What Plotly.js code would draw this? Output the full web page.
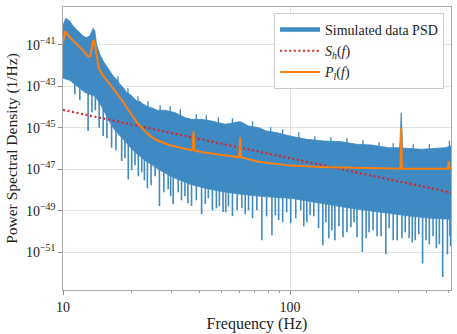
<!DOCTYPE html>
<html>
<head>
<meta charset="utf-8">
<script src="https://cdn.plot.ly/plotly-3.0.1.min.js"></script>
<style>html,body{margin:0;padding:0;background:#fff;}#chart{width:457px;height:334px;}</style>
</head>
<body>
<div id="chart"></div>
<script>
// ---- Simulated data PSD: upper envelope (Hz, 1/Hz) ----
var psdTopFreq = [10.0, 10.28, 10.71, 11.07, 11.46, 11.86, 12.26, 12.69, 13.13, 13.58, 13.81, 14.05, 14.53, 15.03, 15.56, 16.09, 16.64, 17.23, 17.82, 18.43, 19.08, 19.73, 20.40, 21.12, 21.84, 22.59, 23.39, 24.19, 25.02, 25.91, 28.10, 31.11, 34.45, 36.84, 40.79, 45.17, 51.79, 60.32, 65.66, 72.71, 78.87, 87.33, 100.0, 118.6, 140.5, 166.4, 197.3, 229.2, 271.4, 304.1, 309.0, 313.7, 381.4, 451.8, 483.6, 512.0];
var psdTopVal = [8.5e-41, 1.85e-40, 1.37e-40, 7.85e-41, 5.44e-41, 3.78e-41, 2.6e-41, 2.17e-41, 2.6e-41, 6.08e-41, 4.51e-41, 1.03e-41, 3.41e-42, 1.63e-42, 9.3e-43, 5.37e-43, 3.08e-43, 2.14e-43, 1.23e-43, 8.53e-44, 4.9e-44, 4.06e-44, 2.81e-44, 1.93e-44, 1.81e-44, 1.34e-44, 1.11e-44, 9.29e-45, 8.6e-45, 6.9e-45, 6.9e-45, 5.35e-45, 3.07e-45, 2.54e-45, 2.54e-45, 2.1e-45, 1.46e-45, 1.97e-45, 1.21e-45, 1.01e-45, 6.95e-46, 5.82e-46, 4.0e-46, 2.77e-46, 2.3e-46, 2.15e-46, 1.59e-46, 1.47e-46, 1.1e-46, 1.08e-46, 5.35e-45, 1.05e-46, 9.14e-47, 1.02e-46, 1.1e-46, 1.32e-46];

// ---- Simulated data PSD: lower edge of the dense band (Hz, 1/Hz) ----
var psdBaseFreq = [10.0, 10.71, 11.27, 11.86, 12.47, 13.13, 13.81, 14.53, 15.29, 16.09, 16.93, 17.82, 19.13, 20.76, 22.99, 26.79, 31.2, 36.36, 42.36, 49.36, 60.53, 74.19, 100.7, 136.7, 185.6, 251.9, 342.0, 419.5, 512.0];
var psdBaseVal = [2.39e-43, 1.91e-43, 1.23e-43, 7.89e-44, 5.07e-44, 4.06e-44, 3.25e-44, 1.5e-44, 4.94e-45, 1.82e-45, 7.52e-46, 3.86e-46, 1.78e-46, 6.56e-47, 2.7e-47, 8.93e-48, 3.68e-48, 1.89e-48, 1.22e-48, 8.71e-49, 6.25e-49, 5.01e-49, 4.01e-49, 2.31e-49, 1.32e-49, 8.51e-50, 5.46e-50, 4.38e-50, 3.92e-50];

// ---- Simulated data PSD: downward dips below the band (Hz, start 1/Hz, tip 1/Hz) ----
var dipFreq = [11.27, 12.9, 14.43, 15.03, 16.37, 18.13, 19.39, 20.76, 22.23, 23.54, 25.45, 26.6, 29.06, 30.58, 32.18, 34.45, 36.84, 38.66, 40.79, 43.68, 47.39, 50.73, 53.55, 55.78, 61.33, 65.66, 75.16, 78.87, 83.25, 89.12, 96.7, 100.7, 111.5, 118.6, 127.3, 139.5, 148.3, 157.7, 171.1, 185.6, 197.3, 208.3, 222.9, 241.8, 264.3, 284.8, 311.2, 335.0, 356.3, 383.8, 411.0, 441.3, 470.6, 493.6, 510.0,
  11.86, 13.40, 13.88, 15.61, 17.11, 18.75, 20.07, 21.47, 22.83, 24.44, 27.81, 29.80, 33.28, 35.5, 42.36, 45.5, 48.86, 52.1, 58.5, 63.48, 68.39, 71.45, 86.18, 92.83, 106.0, 115.0, 122.6, 133.6, 143.9, 152.9, 164.3, 178.2, 191.4, 216.3, 232.2, 251.9, 273.4, 296.6, 321.8, 345.6, 369.3, 397.3, 426.7, 455.0, 506.3];
var dipStart = [1.91e-43, 7.06e-44, 2.6e-44, 1.07e-44, 1.82e-45, 4.82e-46, 2.22e-46, 1.02e-46, 5.26e-47, 3.37e-47, 2.17e-47, 1.55e-47, 8.93e-48, 6.4e-48, 5.73e-48, 4.11e-48, 2.95e-48, 2.64e-48, 2.36e-48, 1.89e-48, 1.52e-48, 1.36e-48, 1.22e-48, 1.09e-48, 9.73e-49, 8.71e-49, 7.8e-49, 7.8e-49, 6.98e-49, 6.98e-49, 6.25e-49, 6.25e-49, 5.6e-49, 5.01e-49, 4.48e-49, 3.59e-49, 3.21e-49, 2.87e-49, 2.58e-49, 2.07e-49, 1.85e-49, 1.65e-49, 1.48e-49, 1.32e-49, 1.19e-49, 1.06e-49, 9.5e-50, 8.51e-50, 7.62e-50, 7.62e-50, 6.8e-50, 6.1e-50, 6.1e-50, 6.1e-50, 6.1e-50,
  1.1e-43, 5.07e-44, 4.53e-44, 4.43e-45, 9.38e-46, 3.1e-46, 1.43e-46, 6.56e-47, 3.98e-47, 2.42e-47, 9.98e-48, 6.05e-48, 3.3e-48, 2.95e-48, 1.69e-48, 1.44e-48, 1.22e-48, 1.09e-48, 9.2e-49, 8.24e-49, 7.8e-49, 7.38e-49, 6.25e-49, 5.91e-49, 5.01e-49, 4.24e-49, 3.79e-49, 3.21e-49, 2.87e-49, 2.58e-49, 2.31e-49, 1.95e-49, 1.75e-49, 1.48e-49, 1.32e-49, 1.19e-49, 1.06e-49, 9.5e-50, 8.51e-50, 7.62e-50, 7.21e-50, 6.44e-50, 6.1e-50, 5.77e-50, 5.46e-50];
var dipTip = [4.06e-44, 6.95e-46, 1.01e-45, 4.0e-46, 1.1e-46, 2.5e-47, 3.3e-48, 1.55e-47, 7.16e-48, 1.22e-48, 4.59e-48, 1.71e-49, 1.09e-48, 2.07e-49, 7.8e-49, 5.01e-49, 1.71e-49, 3.21e-49, 6.8e-50, 4.01e-49, 1.32e-49, 8.79e-50, 1.65e-49, 5.65e-50, 1.32e-49, 1.06e-49, 3.82e-51, 5.46e-50, 6.65e-51, 3.51e-50, 8.51e-50, 2.51e-50, 1.06e-49, 2.8e-50, 5.46e-50, 2.2e-51, 4.77e-51, 3.82e-51, 5.33e-51, 1.61e-50, 5.33e-51, 1.04e-51, 9.27e-51, 5.96e-51, 8.09e-52, 3.82e-51, 4.77e-51, 4.77e-51, 3.82e-51, 2.89e-52, 2.45e-51, 1.57e-51, 6.55e-53, 8.09e-52, 1.96e-51,
  2.09e-44, 5.52e-45, 6.89e-45, 3.1e-46, 8.18e-47, 3.37e-47, 8.93e-48, 4.59e-48, 2.95e-48, 1.69e-48, 7.8e-49, 5.01e-49, 3.21e-49, 2.31e-49, 2.07e-49, 1.06e-49, 1.65e-49, 8.51e-50, 1.06e-49, 6.8e-50, 4.38e-50, 1.06e-49, 6.1e-50, 2.8e-50, 4.38e-50, 1.8e-50, 6.1e-50, 1.45e-50, 2.8e-50, 1.16e-50, 1.8e-50, 9.27e-51, 2.8e-50, 4.77e-51, 1.16e-50, 5.96e-51, 1.45e-50, 3.82e-51, 9.27e-51, 3.06e-51, 7.43e-51, 3.82e-51, 5.96e-51, 2.45e-51, 5.96e-51];

// ---- Simulated data PSD: small upward excursions above the band (Hz, start 1/Hz, tip 1/Hz) ----
var bumpFreq = [17.46, 19.33, 21.4, 23.7, 26.79, 29.66, 32.85, 38.66, 42.8, 48.37, 55.78, 68.39, 82.17, 92.83, 109.3, 128.6, 151.4, 178.2, 209.7, 246.9, 284.8, 349.1, 411.0, 503.8];
var bumpStart = [1.37e-43, 3.63e-44, 1.5e-44, 8.61e-45, 5.52e-45, 4.94e-45, 3.17e-45, 2.04e-45, 1.82e-45, 1.46e-45, 1.31e-45, 9.38e-46, 5.38e-46, 4.09e-46, 2.77e-46, 1.99e-46, 1.78e-46, 1.59e-46, 1.21e-46, 1.02e-46, 8.66e-47, 7.75e-47, 7.75e-47, 1.02e-46];
var bumpTip = [2.98e-43, 7.89e-44, 3.25e-44, 1.87e-44, 1.2e-44, 1.07e-44, 7.69e-45, 4.43e-45, 3.96e-45, 3.17e-45, 2.84e-45, 2.04e-45, 1.05e-45, 8.39e-46, 6.03e-46, 3.86e-46, 3.46e-46, 3.1e-46, 2.48e-46, 1.99e-46, 1.78e-46, 1.59e-46, 1.59e-46, 2.35e-46];

// ---- S_h(f) ----
var shFreq = [10, 20, 50, 100, 200, 512];
var shVal = [7.2e-45, 1.45e-45, 1.7e-46, 3.4e-47, 6.8e-48, 7.6e-49];

// ---- P_l(f) ----
var plFreq = [10.0, 10.23, 10.71, 11.27, 11.86, 12.47, 12.86, 13.2, 13.4, 13.6, 13.81, 14.1, 14.39, 14.98, 15.61, 16.43, 17.28, 18.18, 19.13, 20.14, 21.19, 22.29, 23.46, 24.69, 25.98, 27.34, 29.66, 32.85, 37.22, 37.6, 37.99, 41.08, 46.91, 59.71, 60.32, 60.95, 72.71, 100.7, 136.7, 197.3, 251.9, 306.8, 309.0, 311.2, 378.7, 496.1, 500.0, 505.2, 512.0];
var plVal = [1.3e-41, 4.36e-41, 2.24e-41, 1.29e-41, 7.84e-42, 4.26e-42, 2.74e-42, 2.74e-42, 6.64e-42, 1.7e-41, 1.03e-41, 2.19e-42, 7.22e-43, 3.33e-43, 1.91e-43, 9.84e-44, 4.53e-44, 2.09e-44, 8.61e-45, 3.96e-45, 1.82e-45, 9.38e-46, 5.38e-46, 3.46e-46, 2.48e-46, 1.99e-46, 1.43e-46, 1.08e-46, 8.18e-47, 6.73e-46, 8.1e-47, 6.56e-47, 5.26e-47, 3.77e-47, 3.46e-46, 3.77e-47, 2.29e-47, 1.5e-47, 1.27e-47, 1.14e-47, 1.08e-47, 1.05e-47, 1.01e-45, 1.05e-47, 1.05e-47, 1.08e-47, 2.5e-47, 1.08e-47, 1.11e-47];

// ---- axis ticks ----
var yTickVals = [1e-41, 1e-43, 1e-45, 1e-47, 1e-49, 1e-51];
var yTickText = ['10<sup>\u221241</sup>', '10<sup>\u221243</sup>', '10<sup>\u221245</sup>', '10<sup>\u221247</sup>', '10<sup>\u221249</sup>', '10<sup>\u221251</sup>'];
var xTickVals = [10, 100];
var xTickText = ['10', '100'];
var xMinorVals = [20, 30, 40, 50, 60, 70, 80, 90, 200, 300, 400, 500];

var serif = '"Liberation Serif", "Times New Roman", serif';
var blue = '#3f8ac2';

var polyX = psdTopFreq.concat(psdBaseFreq.slice().reverse());
var polyY = psdTopVal.concat(psdBaseVal.slice().reverse());

function segments(freq, start, tip) {
  var xs = [], ys = [];
  for (var i = 0; i < freq.length; i++) {
    xs.push(freq[i], freq[i], null);
    ys.push(start[i], tip[i], null);
  }
  return {x: xs, y: ys};
}
var dips = segments(dipFreq, dipStart, dipTip);
var bumps = segments(bumpFreq, bumpStart, bumpTip);

var traces = [
  {x: polyX, y: polyY, type: 'scatter', mode: 'lines', fill: 'toself',
   fillcolor: blue, line: {color: blue, width: 0.8}, showlegend: false},
  {x: dips.x, y: dips.y, type: 'scatter', mode: 'lines', connectgaps: false,
   line: {color: blue, width: 1.6}, showlegend: false},
  {x: bumps.x, y: bumps.y, type: 'scatter', mode: 'lines', connectgaps: false,
   line: {color: blue, width: 1.3}, showlegend: false},
  {x: [null], y: [null], type: 'scatter', mode: 'lines', line: {color: blue, width: 4.5},
   name: 'Simulated data PSD'},
  {x: shFreq, y: shVal, type: 'scatter', mode: 'lines',
   line: {color: '#d62728', width: 2.2, dash: '2px,2.6px'}, name: '<i>S</i><sub><i>h</i></sub>(<i>f</i>)'},
  {x: plFreq, y: plVal, type: 'scatter', mode: 'lines',
   line: {color: '#ff7f0e', width: 2}, name: '<i>P</i><sub><i>l</i></sub>(<i>f</i>)'}
];

var layout = {
  width: 457, height: 334,
  margin: {l: 63, r: 6, t: 7, b: 44},
  paper_bgcolor: '#fff', plot_bgcolor: '#fff',
  font: {family: serif, size: 14, color: '#222'},
  showlegend: true,
  legend: {x: 0.982, y: 0.979, xanchor: 'right', yanchor: 'top',
           bgcolor: 'rgba(255,255,255,0.85)', bordercolor: '#cccccc', borderwidth: 1,
           font: {family: serif, size: 14, color: '#222'}, itemwidth: 40, tracegroupgap: 0},
  xaxis: {type: 'log', range: [1, Math.log10(512)], tickmode: 'array', tickvals: xTickVals, ticktext: xTickText,
          ticks: 'outside', ticklen: 3.5, tickwidth: 1, tickcolor: '#888',
          showline: true, linecolor: '#aaaaaa', linewidth: 1.3, mirror: true,
          showgrid: true, gridcolor: '#dcdcdc', gridwidth: 0.8, zeroline: false,
          tickfont: {family: serif, size: 14, color: '#222'},
          minor: {tickvals: xMinorVals, ticks: 'outside', ticklen: 2, tickwidth: 0.8, tickcolor: '#888', showgrid: false},
          title: {text: 'Frequency (Hz)', font: {family: serif, size: 16, color: '#222'}, standoff: 1},
          automargin: true},
  yaxis: {type: 'log', range: [-52.81, -39.19], tickmode: 'array', tickvals: yTickVals, ticktext: yTickText,
          ticks: 'outside', ticklen: 3.5, tickwidth: 1, tickcolor: '#888',
          showline: true, linecolor: '#aaaaaa', linewidth: 1.3, mirror: true,
          showgrid: true, gridcolor: '#dcdcdc', gridwidth: 0.8, zeroline: false,
          tickfont: {family: serif, size: 14, color: '#222'},
          title: {text: 'Power Spectral Density (1/Hz)', font: {family: serif, size: 15.5, color: '#222'}, standoff: 4},
          automargin: false}
};

Plotly.newPlot('chart', traces, layout, {staticPlot: true, displayModeBar: false});
</script>
</body>
</html>
